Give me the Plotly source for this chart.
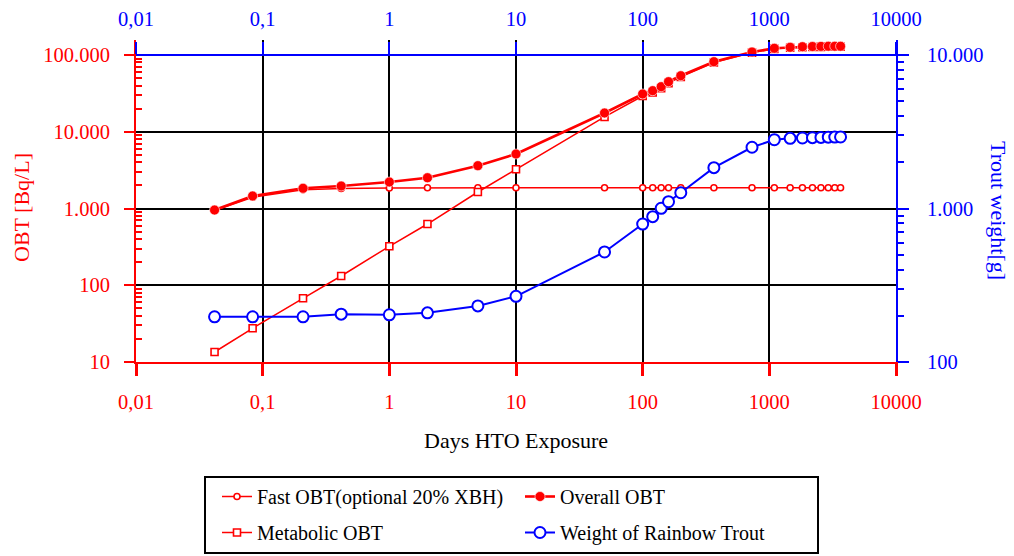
import plotly.graph_objects as go

# ---------------- data ----------------
days = [0.0417, 0.0833, 0.2083, 0.4167, 1, 2, 5, 10, 50, 100, 120, 140, 160, 200,
        365, 730, 1095, 1460, 1825, 2190, 2555, 2920, 3285, 3650]
fast_obt = [940, 1400, 1760, 1820, 1850, 1860, 1866, 1866, 1866, 1866, 1866, 1866,
            1866, 1866, 1866, 1866, 1866, 1866, 1866, 1866, 1866, 1866, 1866, 1866]
metabolic_obt = [13.5, 27.5, 67.6, 132, 322, 628, 1640, 3245, 15600, 29200, 32400,
                 36800, 43000, 51800, 80000, 107400, 120300, 124100, 126400, 127100,
                 127600, 128100, 128100, 128100]
overall_obt = [955, 1456, 1834, 1963, 2214, 2518, 3613, 5130, 17540, 31060, 34300,
               38650, 44900, 53700, 81800, 109300, 122200, 126000, 128300, 129000,
               129500, 130000, 130000, 130000]
trout_weight = [197, 197, 197, 205, 203, 209, 232, 268, 521, 792, 885, 1003, 1107,
                1267, 1845, 2506, 2806, 2865, 2880, 2895, 2905, 2915, 2920, 2925]

x_tick_vals = [0.01, 0.1, 1, 10, 100, 1000, 10000]
x_tick_text = ["0,01", "0,1", "1", "10", "100", "1000", "10000"]
obt_tick_vals = [10, 100, 1000, 10000, 100000]
obt_tick_text = ["10", "100", "1.000", "10.000", "100.000"]
wt_tick_vals = [100, 1000, 10000]
wt_tick_text = ["100", "1.000", "10.000"]

series_names = ["Fast OBT(optional 20% XBH)", "Metabolic OBT", "Overall OBT",
                "Weight of Rainbow Trout"]

# ---------------- style / geometry ----------------
RED = "#ff0000"
BLUE = "#0000ff"
FONT = "Liberation Serif"

OFF = 8                              # default page margin around the figure div
W, H = 1014 - OFF, 556 - OFF
PLOT_L, PLOT_R, PLOT_T, PLOT_B = 136, 896, 40, 362   # page px of the plot area
L, T = PLOT_L - OFF, PLOT_T - OFF
R, B = W - (PLOT_R - OFF), H - (PLOT_B - OFF)
PW, PH = PLOT_R - PLOT_L, PLOT_B - PLOT_T
AXIS_PX = 307                        # px between bottom axis and the top axis line
obt_top = 1 + 4 * PH / AXIS_PX
wt_top = 2 + 2 * PH / AXIS_PX
top_axis_pos = AXIS_PX / PH


def px_x(xp):
    return (xp - PLOT_L) / PW


def px_y(yp):
    return (PLOT_B - yp) / PH


obt_minor = [m * 10 ** e for e in range(1, 5) for m in range(2, 10)]
wt_minor = [m * 10 ** e for e in range(2, 4) for m in range(2, 10)]

fig = go.Figure()

fig.add_trace(go.Scatter(
    x=days, y=fast_obt, name=series_names[0], mode="lines+markers",
    line=dict(color=RED, width=1.5),
    marker=dict(symbol="circle", size=6, color="white", line=dict(color=RED, width=1.6)),
    cliponaxis=False, legend="legend", legendrank=1))
fig.add_trace(go.Scatter(
    x=days, y=metabolic_obt, name=series_names[1], mode="lines+markers",
    line=dict(color=RED, width=1.5),
    marker=dict(symbol="square", size=7, color="white", line=dict(color=RED, width=1.6)),
    cliponaxis=False, legend="legend2", legendrank=1))
fig.add_trace(go.Scatter(
    x=days, y=overall_obt, name=series_names[2], mode="lines+markers",
    line=dict(color=RED, width=2.6),
    marker=dict(symbol="circle", size=10, color=RED, line=dict(color="white", width=0.6)),
    cliponaxis=False, legend="legend", legendrank=2))
fig.add_trace(go.Scatter(
    x=days, y=trout_weight, name=series_names[3], mode="lines+markers",
    xaxis="x2", yaxis="y2",
    line=dict(color=BLUE, width=2),
    marker=dict(symbol="circle", size=11, color="white", line=dict(color=BLUE, width=2)),
    cliponaxis=False, legend="legend2", legendrank=2))

TICK_SIZE = 20.5
tickfont_red = dict(family=FONT, size=TICK_SIZE, color=RED)
tickfont_blue = dict(family=FONT, size=TICK_SIZE, color=BLUE)

legend_common = dict(
    orientation="h", xanchor="left", yanchor="top",
    entrywidth=258, entrywidthmode="pixels", itemwidth=30,
    font=dict(family=FONT, size=20, color="black"),
    bgcolor="rgba(0,0,0,0)", borderwidth=0)

fig.update_layout(
    width=W, height=H,
    margin=dict(l=L, r=R, t=T, b=B, autoexpand=False),
    paper_bgcolor="white", plot_bgcolor="white",
    font=dict(family=FONT, size=20, color="black"),
    showlegend=True,
    xaxis=dict(
        type="log", range=[-2, 4], side="bottom", anchor="y",
        tickmode="array", tickvals=x_tick_vals, ticktext=x_tick_text,
        ticks="outside", ticklen=12, tickwidth=2.5, tickcolor=RED,
        tickfont=tickfont_red, ticklabelstandoff=8,
        showline=True, linecolor=RED, linewidth=2,
        showgrid=True, gridcolor="black", gridwidth=2, zeroline=False),
    xaxis2=dict(
        type="log", range=[-2, 4], overlaying="x", side="top",
        anchor="free", position=top_axis_pos,
        tickmode="array", tickvals=x_tick_vals, ticktext=x_tick_text,
        ticks="outside", ticklen=12, tickwidth=2, tickcolor=BLUE,
        tickfont=tickfont_blue, ticklabelstandoff=8,
        showline=True, linecolor=BLUE, linewidth=2,
        showgrid=False, zeroline=False),
    yaxis=dict(
        type="log", range=[1, obt_top], side="left", anchor="x",
        tickmode="array", tickvals=obt_tick_vals, ticktext=obt_tick_text,
        ticks="outside", ticklen=10, tickwidth=2, tickcolor=RED,
        tickfont=tickfont_red, ticklabelstandoff=10,
        minor=dict(tickmode="array", tickvals=obt_minor, ticks="inside",
                   ticklen=6, tickwidth=1.5, tickcolor=RED, showgrid=False),
        showline=True, linecolor=RED, linewidth=2,
        showgrid=True, gridcolor="black", gridwidth=2, zeroline=False),
    yaxis2=dict(
        type="log", range=[2, wt_top], side="right", overlaying="y", anchor="x",
        tickmode="array", tickvals=wt_tick_vals, ticktext=wt_tick_text,
        ticks="outside", ticklen=11, tickwidth=2, tickcolor=BLUE,
        tickfont=tickfont_blue, ticklabelstandoff=14,
        minor=dict(tickmode="array", tickvals=wt_minor, ticks="outside",
                   ticklen=6, tickwidth=1.5, tickcolor=BLUE, showgrid=False),
        showline=True, linecolor=BLUE, linewidth=2,
        showgrid=False, zeroline=False),
    yaxis3=dict(
        type="log", range=[1, obt_top], side="left", overlaying="y", anchor="x",
        tickmode="array", tickvals=obt_tick_vals, ticks="inside", ticklen=12,
        tickwidth=2, tickcolor=RED, showticklabels=False,
        showline=False, showgrid=False, zeroline=False),
    yaxis4=dict(
        type="log", range=[2, wt_top], side="right", overlaying="y", anchor="x",
        tickmode="array", tickvals=wt_tick_vals, ticks="inside", ticklen=11,
        tickwidth=2, tickcolor=BLUE, showticklabels=False,
        minor=dict(tickmode="array", tickvals=wt_minor, ticks="inside",
                   ticklen=5, tickwidth=1.5, tickcolor=BLUE, showgrid=False),
        showline=False, showgrid=False, zeroline=False),
    legend=dict(x=px_x(217), y=px_y(477), **legend_common),
    legend2=dict(x=px_x(217), y=px_y(513), **legend_common),
)

# legend frame
fig.add_shape(type="rect", xref="paper", yref="paper",
              x0=px_x(205), x1=px_x(818), y0=px_y(553), y1=px_y(477),
              line=dict(color="black", width=2), fillcolor="rgba(0,0,0,0)")

# axis titles
fig.add_annotation(text="OBT [Bq/L]", xref="paper", yref="paper",
                   x=px_x(21), y=px_y(208), textangle=-90,
                   xanchor="center", yanchor="middle",
                   showarrow=False, font=dict(family=FONT, size=22, color=RED))
fig.add_annotation(text="Trout weight[g]", xref="paper", yref="paper",
                   x=px_x(999), y=px_y(210), textangle=90,
                   xanchor="center", yanchor="middle",
                   showarrow=False, font=dict(family=FONT, size=22, color=BLUE))
fig.add_annotation(text="Days HTO Exposure", xref="paper", yref="paper",
                   x=px_x(516), y=px_y(440),
                   xanchor="center", yanchor="middle",
                   showarrow=False, font=dict(family=FONT, size=22, color="black"))

fig.write_html("out.html")
